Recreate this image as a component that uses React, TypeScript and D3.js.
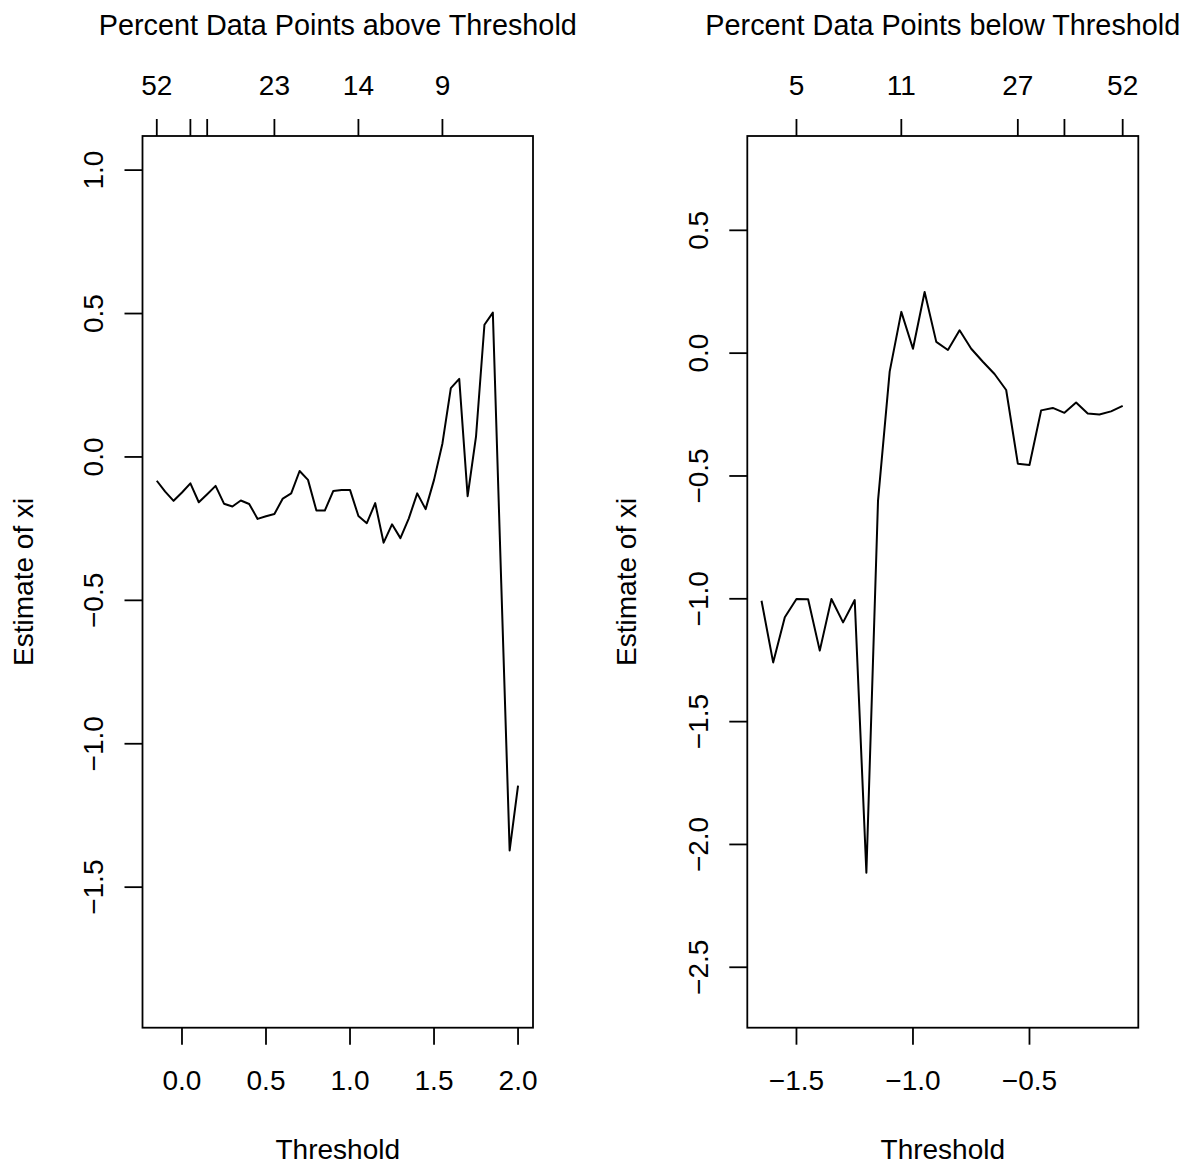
import * as d3 from "d3"

// thresholds (x) and xi estimates (y) for the upper tail
const upperThresholds = d3.range(44).map((i) => -0.15 + 0.05 * i)
const upperXi = [
  -0.083, -0.121, -0.153, -0.124, -0.092, -0.158, -0.13, -0.101, -0.163, -0.173,
  -0.152, -0.164, -0.216, -0.207, -0.199, -0.145, -0.127, -0.049, -0.08, -0.187,
  -0.187, -0.119, -0.115, -0.115, -0.206, -0.231, -0.161, -0.299, -0.235, -0.283,
  -0.214, -0.127, -0.182, -0.08, 0.047, 0.24, 0.272, -0.137, 0.072, 0.461,
  0.503, -0.44, -1.372, -1.146,
]

// thresholds and xi estimates for the lower tail
const lowerThresholds = d3.range(32).map((i) => -1.65 + 0.05 * i)
const lowerXi = [
  -1.008, -1.259, -1.075, -1.001, -1.002, -1.211, -1.001, -1.096, -1.005, -2.115,
  -0.6, -0.075, 0.168, 0.018, 0.249, 0.046, 0.013, 0.093, 0.018, -0.035,
  -0.085, -0.15, -0.45, -0.455, -0.233, -0.223, -0.243, -0.201, -0.246, -0.25,
  -0.237, -0.215,
]

const upperBottomTicks = [0, 0.5, 1, 1.5, 2]
const upperLeftTicks = [-1.5, -1, -0.5, 0, 0.5, 1]
const upperTopTicks = [-0.15, 0.05, 0.15, 0.55, 1.05, 1.55]
const upperTopLabels = ["52", "", "", "23", "14", "9"]

const lowerBottomTicks = [-1.5, -1, -0.5]
const lowerLeftTicks = [-2.5, -2, -1.5, -1, -0.5, 0, 0.5]
const lowerTopTicks = [-1.5, -1.05, -0.55, -0.35, -0.1]
const lowerTopLabels = ["5", "11", "27", "", "52"]

const FONT = "'Liberation Sans', Arial, Helvetica, sans-serif"
const FS = 28
const TOP = 136
const BOTTOM = 1027.7
const TICK = 17

const fmt = (v: number) => v.toFixed(1).replace("-", "\u2212")

interface PanelProps {
  left: number
  right: number
  xDomain: [number, number]
  yDomain: [number, number]
  xs: number[]
  ys: number[]
  bottomTicks: number[]
  leftTicks: number[]
  topTicks: number[]
  topLabels: string[]
  title: string
  yTitleX: number
}

function Panel(p: PanelProps) {
  const x = d3.scaleLinear().domain(p.xDomain).range([p.left, p.right])
  const y = d3.scaleLinear().domain(p.yDomain).range([BOTTOM, TOP])
  const line = d3
    .line<number>()
    .x((_, i) => x(p.xs[i]))
    .y((d) => y(d))
  const cx = (p.left + p.right) / 2
  const midY = (TOP + BOTTOM) / 2

  return (
    <g fontFamily={FONT} fontSize={FS} fill="#000">
      <text x={cx} y={35} textAnchor="middle" fontSize={28.8}>{p.title}</text>
      <rect x={p.left} y={TOP} width={p.right - p.left} height={BOTTOM - TOP} fill="none" stroke="#000" strokeWidth={1.8} />
      <path d={line(p.ys) || ""} fill="none" stroke="#000" strokeWidth={2} strokeLinejoin="round" />

      {/* bottom axis */}
      {p.bottomTicks.map((t) => (
        <g key={"b" + t}>
          <line x1={x(t)} x2={x(t)} y1={BOTTOM} y2={BOTTOM + TICK} stroke="#000" strokeWidth={1.8} />
          <text x={x(t)} y={1090} textAnchor="middle">{fmt(t)}</text>
        </g>
      ))}
      <text x={cx} y={1159} textAnchor="middle">Threshold</text>

      {/* top axis */}
      {p.topTicks.map((t, i) => (
        <g key={"t" + t}>
          <line x1={x(t)} x2={x(t)} y1={TOP} y2={TOP - TICK} stroke="#000" strokeWidth={1.8} />
          <text x={x(t)} y={95} textAnchor="middle">{p.topLabels[i]}</text>
        </g>
      ))}

      {/* left axis */}
      {p.leftTicks.map((t) => (
        <g key={"l" + t}>
          <line x1={p.left} x2={p.left - TICK - 1} y1={y(t)} y2={y(t)} stroke="#000" strokeWidth={1.8} />
          <text transform={`translate(${p.left - 39.5},${y(t)}) rotate(-90)`} textAnchor="middle">{fmt(t)}</text>
        </g>
      ))}
      <text transform={`translate(${p.yTitleX},${midY}) rotate(-90)`} textAnchor="middle">Estimate of xi</text>
    </g>
  )
}

export default function App() {
  return (
    <svg width={1181} height={1165} style={{ position: "absolute", left: 0, top: 0, background: "#fff" }}>
      <rect width={1181} height={1165} fill="#fff" />
      <Panel
        left={142.5}
        right={533}
        xDomain={[-0.235, 2.089]}
        yDomain={[-1.99, 1.119]}
        xs={upperThresholds}
        ys={upperXi}
        bottomTicks={upperBottomTicks}
        leftTicks={upperLeftTicks}
        topTicks={upperTopTicks}
        topLabels={upperTopLabels}
        title="Percent Data Points above Threshold"
        yTitleX={33}
      />
      <Panel
        left={747.3}
        right={1138.3}
        xDomain={[-1.711, -0.033]}
        yDomain={[-2.746, 0.884]}
        xs={lowerThresholds}
        ys={lowerXi}
        bottomTicks={lowerBottomTicks}
        leftTicks={lowerLeftTicks}
        topTicks={lowerTopTicks}
        topLabels={lowerTopLabels}
        title="Percent Data Points below Threshold"
        yTitleX={636}
      />
    </svg>
  )
}
